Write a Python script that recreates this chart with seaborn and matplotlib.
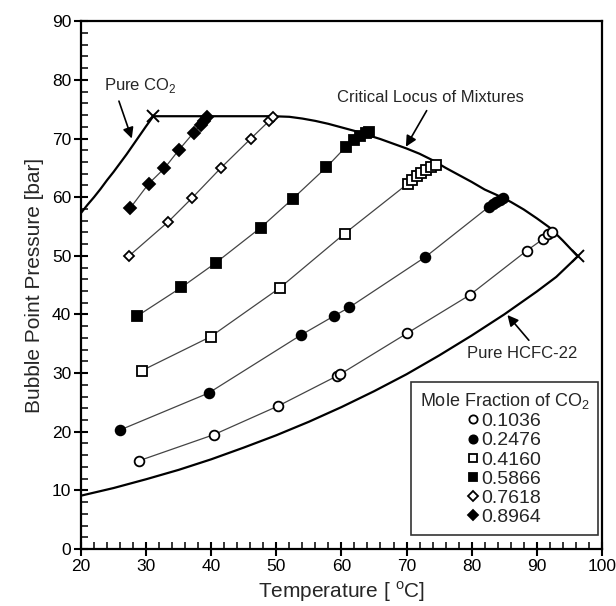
import numpy as np
import pandas as pd
import matplotlib
matplotlib.use("Agg")
import matplotlib.pyplot as plt
from matplotlib.lines import Line2D
from matplotlib.ticker import MultipleLocator
import seaborn as sns

sns.set_style("ticks")
plt.rcParams['font.family'] = ['Liberation Sans', 'DejaVu Sans']
plt.rcParams['mathtext.fontset'] = 'custom'
plt.rcParams['mathtext.rm'] = 'Liberation Sans'

# ---- data ----
fractions = ["0.1036", "0.2476", "0.4160", "0.5866", "0.7618", "0.8964"]

t_1036 = [28.9, 40.4, 50.3, 59.3, 59.8, 70.1, 79.7, 88.5, 90.9, 91.7, 92.4]
p_1036 = [15.05, 19.5, 24.4, 29.5, 29.8, 36.8, 43.3, 50.9, 52.8, 53.8, 54.1]

t_2476 = [26.0, 39.6, 53.8, 58.8, 61.2, 72.9, 82.7, 83.3, 83.8, 84.3, 84.8]
p_2476 = [20.3, 26.6, 36.5, 39.7, 41.2, 49.8, 58.4, 58.8, 59.2, 59.5, 59.8]

t_4160 = [29.3, 39.9, 50.5, 60.5, 70.2, 70.9, 71.6, 72.3, 73.0, 73.8, 74.6]
p_4160 = [30.4, 36.2, 44.5, 53.8, 62.3, 62.9, 63.6, 64.2, 64.7, 65.2, 65.5]

t_5866 = [28.6, 35.4, 40.7, 47.6, 52.5, 57.7, 60.7, 62.0, 62.9, 63.7, 64.3]
p_5866 = [39.7, 44.6, 48.8, 54.8, 59.7, 65.1, 68.6, 69.7, 70.4, 70.9, 71.1]

t_7618 = [27.3, 33.4, 37.1, 41.5, 46.1, 48.9, 49.5]
p_7618 = [49.9, 55.8, 59.9, 65.0, 70.0, 73.0, 73.7]

t_8964 = [27.6, 30.4, 32.8, 35.0, 37.3, 38.4, 38.9, 39.3]
p_8964 = [58.2, 62.3, 64.9, 68.0, 71.0, 72.3, 73.0, 73.6]

# pure component vapour pressure curves
t_co2 = [20.0, 21.0, 22.0, 23.0, 24.0, 25.0, 26.0, 27.0, 28.0, 29.0, 30.0, 31.1]
p_co2 = [57.3, 58.7, 60.0, 61.4, 62.9, 64.3, 65.8, 67.3, 68.9, 70.5, 72.1, 73.8]

t_r22 = [20.0, 25.0, 30.0, 35.0, 40.0, 45.0, 50.0, 55.0, 60.0, 65.0, 70.0, 75.0,
         80.0, 85.0, 90.0, 93.0, 96.3]
p_r22 = [9.1, 10.4, 11.9, 13.5, 15.3, 17.3, 19.4, 21.7, 24.2, 26.9, 29.8, 33.0,
         36.4, 40.0, 43.9, 46.4, 49.9]

# critical locus of mixtures
t_crit = [31.1, 40.0, 49.5, 52.0, 54.0, 56.0, 58.0, 60.0, 62.0, 64.0, 66.0, 68.0,
          70.0, 72.0, 74.0, 76.0, 78.0, 80.0, 82.0, 84.0, 86.0, 88.0, 90.0, 92.0,
          94.0, 96.3]
p_crit = [73.8, 73.8, 73.8, 73.7, 73.4, 73.0, 72.5, 71.9, 71.3, 70.6, 69.9, 69.1,
          68.3, 67.4, 66.3, 65.0, 63.8, 62.6, 61.3, 60.3, 59.2, 57.9, 56.4, 54.8,
          52.6, 49.9]

series = [
    (t_1036, p_1036, "o", "white", 7),
    (t_2476, p_2476, "o", "black", 7),
    (t_4160, p_4160, "s", "white", 7),
    (t_5866, p_5866, "s", "black", 7.5),
    (t_7618, p_7618, "D", "white", 5.5),
    (t_8964, p_8964, "D", "black", 6),
]

fig = plt.figure(figsize=(6.16, 6.06), dpi=100)
ax = fig.add_axes([0.1315, 0.094, 0.8455, 0.871])

# boundary curves
sns.lineplot(x=t_co2, y=p_co2, ax=ax, color="black", lw=1.6, sort=False)
sns.lineplot(x=t_r22, y=p_r22, ax=ax, color="black", lw=1.6, sort=False)
sns.lineplot(x=t_crit, y=p_crit, ax=ax, color="black", lw=1.6, sort=False)
ax.plot([t_co2[-1], t_r22[-1]], [p_co2[-1], p_r22[-1]], ls="none", marker="x",
        ms=8, mew=1.4, color="black")

# isopleths
for (t, p, m, fc, ms), lab in zip(series, fractions):
    sns.lineplot(x=t, y=p, ax=ax, color="#444444", lw=0.9, sort=False)
    ax.plot(t, p, ls="none", marker=m, ms=ms, mfc=fc, mec="black", mew=1.3, zorder=5)

ax.set_xlim(20, 100)
ax.set_ylim(0, 90)
ax.xaxis.set_major_locator(MultipleLocator(10))
ax.xaxis.set_minor_locator(MultipleLocator(2))
ax.yaxis.set_major_locator(MultipleLocator(10))
ax.yaxis.set_minor_locator(MultipleLocator(2))
ax.tick_params(which="major", direction="inout", length=10, width=1.5, labelsize=12.5,
               colors="black", pad=2)
ax.tick_params(which="minor", direction="in", length=5, width=1.3)
for s in ax.spines.values():
    s.set_linewidth(1.6)
    s.set_color("black")

ax.set_xlabel("Temperature [ $^{\\rm o}$C]", fontsize=15, labelpad=4)
ax.set_ylabel("Bubble Point Pressure [bar]", fontsize=15, labelpad=6)

# annotations
ax.annotate("Pure CO$_2$", xy=(27.8, 70.0), xytext=(23.5, 79.0), fontsize=12,
            ha="left", va="center", arrowprops=dict(arrowstyle="-|>", color="black", lw=1.2,
            mutation_scale=16, shrinkA=2, shrinkB=0, relpos=(0.18, 0)))
ax.annotate("Critical Locus of Mixtures", xy=(69.9, 68.6), xytext=(73.6, 77.0), fontsize=12,
            ha="center", va="center", arrowprops=dict(arrowstyle="-|>", color="black", lw=1.2,
            mutation_scale=16, shrinkA=2, shrinkB=0, relpos=(0.5, 0)))
ax.annotate("Pure HCFC-22", xy=(85.5, 39.9), xytext=(87.8, 33.4), fontsize=12,
            ha="center", va="center", arrowprops=dict(arrowstyle="-|>", color="black", lw=1.2,
            mutation_scale=16, shrinkA=2, shrinkB=0, relpos=(0.6, 1)))

# legend
handles = [Line2D([], [], ls="none", marker=m, ms=ms * 0.85, mfc=fc, mec="black", mew=1.3)
           for (t, p, m, fc, ms) in series]
leg = ax.legend(handles, fractions, title="Mole Fraction of CO$_2$", loc="lower right",
                bbox_to_anchor=(0.993, 0.027), fontsize=14, title_fontsize=13,
                handlelength=0.5, handletextpad=0.15, labelspacing=0.08,
                frameon=True, fancybox=False, borderpad=0.45, borderaxespad=0)
leg.get_frame().set_edgecolor("black")
leg.get_frame().set_linewidth(1.2)
leg._legend_box.align = "center"

fig.savefig("out.png", dpi=100)
